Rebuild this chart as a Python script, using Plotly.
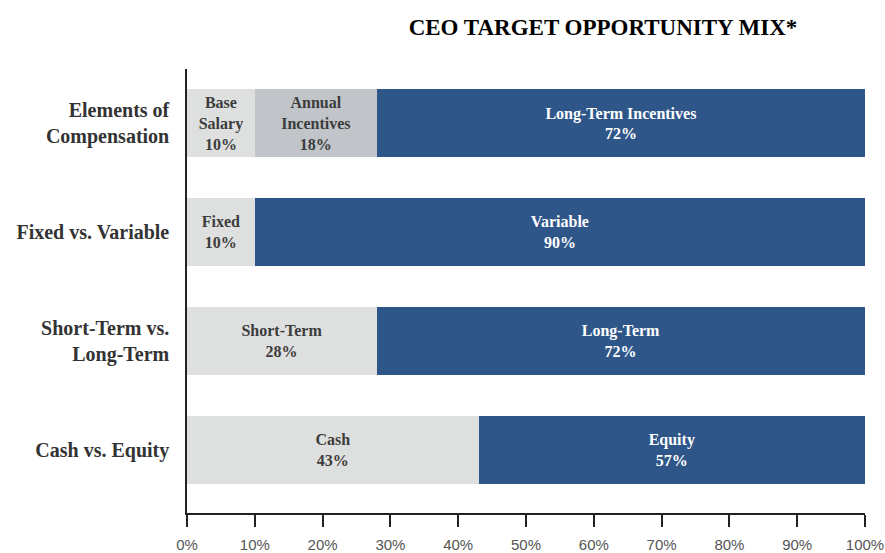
import plotly.graph_objects as go

# rows, top to bottom
CATEGORIES = ['Elements of<br>Compensation', 'Fixed vs. Variable',
              'Short-Term vs.<br>Long-Term', 'Cash vs. Equity']

# segments left to right in each row
SEG1_VALUES = [10, 10, 28, 43]
SEG1_NAMES = ['Base<br>Salary', 'Fixed', 'Short-Term', 'Cash']
SEG2_VALUES = [18, 90, 72, 57]
SEG2_NAMES = ['Annual<br>Incentives', 'Variable', 'Long-Term', 'Equity']
SEG3_VALUES = [72, 0, 0, 0]
SEG3_NAMES = ['Long-Term Incentives', '', '', '']

TICK_VALUES = [0, 10, 20, 30, 40, 50, 60, 70, 80, 90, 100]

LIGHT = '#dedfdf'
MID = '#c1c5c9'
BLUE = '#2e5689'
DARK_TXT = '#3c3c3c'

SERIF = 'Liberation Serif'


def labels(names, values):
    return [f'{n}<br>{v}%' if v else '' for n, v in zip(names, values)]


fig = go.Figure()
fig.add_trace(go.Bar(
    y=CATEGORIES, x=SEG1_VALUES, orientation='h',
    marker=dict(color=LIGHT, line=dict(width=0)),
    text=labels(SEG1_NAMES, SEG1_VALUES),
    insidetextfont=dict(family=SERIF, size=16, weight='bold', color=DARK_TXT),
))
fig.add_trace(go.Bar(
    y=CATEGORIES, x=SEG2_VALUES, orientation='h',
    marker=dict(color=[MID, BLUE, BLUE, BLUE], line=dict(width=0)),
    text=labels(SEG2_NAMES, SEG2_VALUES),
    insidetextfont=dict(family=SERIF, size=16, weight='bold',
                        color=[DARK_TXT, 'white', 'white', 'white']),
))
fig.add_trace(go.Bar(
    y=CATEGORIES, x=SEG3_VALUES, orientation='h',
    marker=dict(color=BLUE, line=dict(width=0)),
    text=labels(SEG3_NAMES, SEG3_VALUES),
    insidetextfont=dict(family=SERIF, size=16, weight='bold', color='white'),
))
fig.update_traces(
    textposition='inside', insidetextanchor='middle', textangle=0,
    constraintext='none', hoverinfo='skip',
)

fig.update_layout(
    barmode='stack', bargap=0.376, showlegend=False,
    width=885, height=553,
    margin=dict(l=187, r=20, t=69, b=40),
    plot_bgcolor='white', paper_bgcolor='white',
    title=dict(text='<b>CEO TARGET OPPORTUNITY MIX*</b>',
               x=603 / 885, xanchor='center', y=1 - 27 / 553, yanchor='middle',
               font=dict(family=SERIF, size=23, color='black')),
)
fig.update_xaxes(
    range=[0, 100], tickvals=TICK_VALUES,
    ticktext=[f'{v}%' for v in TICK_VALUES],
    showgrid=False, zeroline=False, automargin=False,
    showline=True, linecolor='#222222', linewidth=1.5,
    ticks='outside', ticklen=12, tickcolor='#222222', tickwidth=1.5,
    ticklabelstandoff=5,
    tickfont=dict(family='Liberation Sans', size=15, color='#555555'),
)
fig.update_yaxes(
    categoryorder='array', categoryarray=CATEGORIES[::-1],
    range=[-0.58, 3.5],
    showgrid=False, zeroline=False, automargin=False,
    showline=True, linecolor='#222222', linewidth=1.5,
    ticks='', ticklabelstandoff=12,
    tickfont=dict(family=SERIF, size=20, weight='bold', color='#333333'),
)
# the page's default body margin would push the figure 8px off the corner
fig.write_html('out.html', config={'displayModeBar': False},
               post_script="document.body.style.margin='0px';")
